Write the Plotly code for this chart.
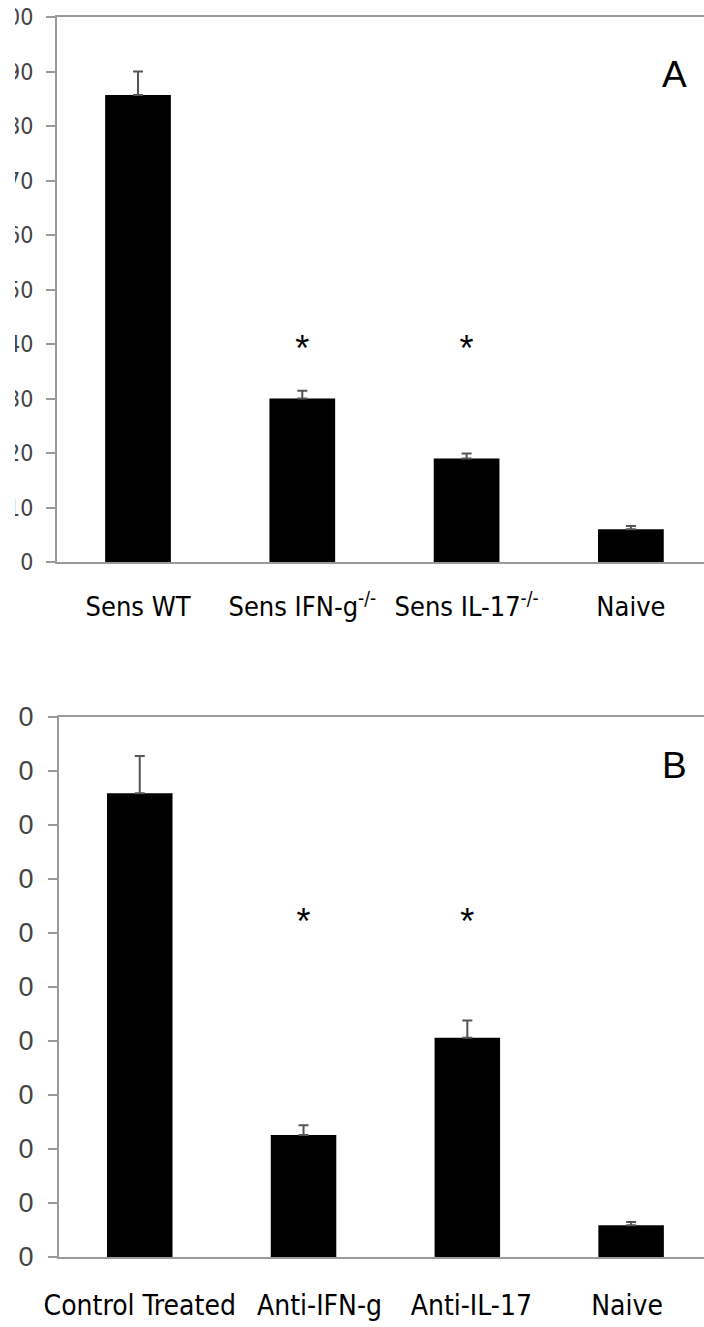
import plotly.graph_objects as go

# ---- data ----
cats_a = ["Sens WT", "Sens IFN-g<sup>-/-</sup>", "Sens IL-17<sup>-/-</sup>", "Naive"]
vals_a = [85.7, 30.0, 19.0, 6.0]
err_a = [4.3, 1.4, 0.9, 0.6]
sig_a = [cats_a[1], cats_a[2]]
sig_a_y = [38.5, 38.5]

cats_b = ["Control Treated", "\u00a0\u00a0\u00a0\u00a0Anti-IFN-g", "\u00a0Anti-IL-17", "Naive "]
vals_b = [85.9, 22.6, 40.6, 5.9]
err_b = [6.9, 1.8, 3.2, 0.6]
sig_b = [cats_b[1], cats_b[2]]
sig_b_y = [61.5, 61.5]

y_ticks = [0, 10, 20, 30, 40, 50, 60, 70, 80, 90, 100]
y_ticktext = [str(v) for v in y_ticks]

W, H = 704, 1327
ML, MT, MB = 57, 17, 70
plot_w = W - ML
plot_h = H - MT - MB


def px_x(p):
    return (p - ML) / plot_w


def px_y(p):
    return (H - MB - p) / plot_h


fig = go.Figure()

err_style = dict(type="data", symmetric=False, arrayminus=[0, 0, 0, 0],
                 color="#555555", thickness=2, width=5)

fig.add_trace(go.Bar(x=cats_a, y=vals_a, width=0.4, marker=dict(color="black", line=dict(width=0)),
                     error_y=dict(array=err_a, **err_style), xaxis="x", yaxis="y", showlegend=False))
fig.add_trace(go.Bar(x=cats_b, y=vals_b, width=0.4, marker=dict(color="black", line=dict(width=0)),
                     error_y=dict(array=err_b, **err_style), xaxis="x2", yaxis="y2", showlegend=False))

star_font = dict(size=36, color="black", family="Liberation Sans")
fig.add_trace(go.Scatter(x=sig_a, y=sig_a_y, mode="text", text=["*"] * len(sig_a),
                         textfont=star_font, xaxis="x", yaxis="y", showlegend=False))
fig.add_trace(go.Scatter(x=sig_b, y=sig_b_y, mode="text", text=["*"] * len(sig_b),
                         textfont=star_font, xaxis="x2", yaxis="y2", showlegend=False))

axis_line = dict(showline=True, linecolor="#9a9a9a", linewidth=2, showgrid=False,
                 zeroline=False, automargin=False)

top_dom = [px_y(562), 1.0]
bot_dom = [0.0, px_y(717)]

xfont_a = dict(family="DejaVu Sans Condensed, Open Sans", size=27, color="black")
xfont_b = dict(family="DejaVu Sans Condensed, Open Sans", size=28, color="black")

fig.update_layout(
    width=W, height=H,
    margin=dict(l=ML, r=0, t=MT, b=MB, autoexpand=False),
    paper_bgcolor="white", plot_bgcolor="white",
    xaxis=dict(type="category", range=[-0.493, 3.445], domain=[0, 1], anchor="y",
               mirror=True, ticks="", tickangle=0, tickfont=xfont_a, ticklabelstandoff=20, **axis_line),
    yaxis=dict(domain=top_dom, range=[0, 100], tickvals=y_ticks, ticktext=y_ticktext,
               ticks="outside", ticklen=9, tickcolor="#9a9a9a", tickwidth=2, anchor="x",
               tickfont=dict(family="DejaVu Sans Condensed", size=23, color="#444444"),
               ticklabelstandoff=8, **axis_line),
    xaxis2=dict(type="category", range=[-0.493, 3.445], domain=[px_x(59), 1], anchor="y2",
                mirror=True, ticks="", tickangle=0, tickfont=xfont_b, ticklabelstandoff=22, **axis_line),
    yaxis2=dict(domain=bot_dom, range=[0, 100], tickvals=y_ticks, ticktext=y_ticktext,
                ticks="outside", ticklen=9, tickcolor="#9a9a9a", tickwidth=2, anchor="x2",
                tickfont=dict(family="Liberation Sans, Arial", size=27, color="#444444"),
                ticklabelstandoff=9, **axis_line),
    annotations=[
        dict(text="A", x=px_x(674), y=px_y(74), xref="paper", yref="paper", showarrow=False,
             xanchor="center", yanchor="middle",
             font=dict(family="Liberation Sans, Arial", size=37, color="black")),
        dict(text="B", x=px_x(674), y=px_y(765), xref="paper", yref="paper", showarrow=False,
             xanchor="center", yanchor="middle",
             font=dict(family="Liberation Sans, Arial", size=37, color="black")),
    ],
    shapes=[
        # the source figure is cropped at the left edge: hide the leading digits
        dict(type="rect", xref="paper", yref="paper", x0=px_x(-10), x1=px_x(15),
             y0=px_y(590), y1=px_y(-10), fillcolor="white", line=dict(width=0), layer="above"),
        dict(type="rect", xref="paper", yref="paper", x0=px_x(-10), x1=px_x(18),
             y0=px_y(1290), y1=px_y(690), fillcolor="white", line=dict(width=0), layer="above"),
    ],
)

fig.write_html("out.html")
